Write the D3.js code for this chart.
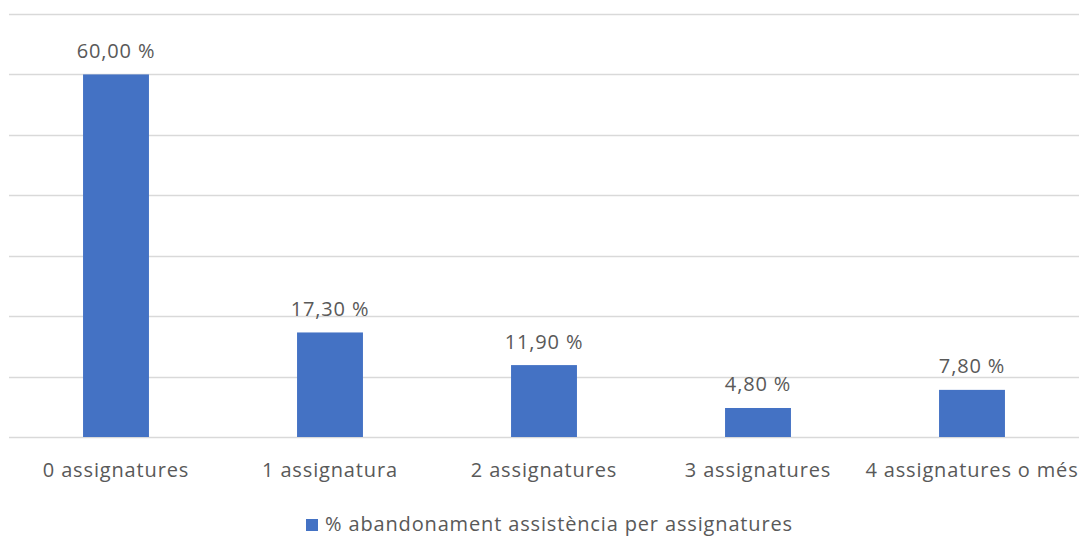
<!DOCTYPE html>
<html>
<head>
<meta charset="utf-8">
<script src="https://cdn.jsdelivr.net/npm/d3@7"></script>
<style>
  html, body { margin: 0; padding: 0; background: #fff; }
  svg { display: block; }
  text { font-family: "Open Sans", "Noto Sans", sans-serif; fill: #595959; letter-spacing: 0.85px; }
</style>
</head>
<body>
<svg id="chart" width="1079" height="536"></svg>
<script>
// Categories and values (percentages)
const categories = ["0 assignatures", "1 assignatura", "2 assignatures", "3 assignatures", "4 assignatures o més"];
const values = [60.0, 17.3, 11.9, 4.8, 7.8];
const gridTicks = [0, 10, 20, 30, 40, 50, 60, 70];
const seriesName = "% abandonament assistència per assignatures";

const svg = d3.select("#chart");
const plot = { left: 9, right: 1079, top: 14, bottom: 437 };

const x = d3.scaleBand()
  .domain(categories)
  .range([plot.left, plot.right])
  .paddingInner(0.692)
  .paddingOuter(0.346);

const y = d3.scaleLinear()
  .domain([0, 70])
  .range([plot.bottom, plot.top]);

const locale = d3.formatLocale({ decimal: ",", thousands: ".", grouping: [3], currency: ["", " €"] });
const fmt = v => locale.format(".2f")(v) + " %";

// Horizontal gridlines
svg.append("g")
  .selectAll("line")
  .data(gridTicks)
  .join("line")
  .attr("x1", plot.left)
  .attr("x2", plot.right)
  .attr("y1", d => Math.round(y(d)) + 0.5)
  .attr("y2", d => Math.round(y(d)) + 0.5)
  .attr("stroke", "#d9d9d9")
  .attr("stroke-width", 1.3);

// Bars
svg.append("g")
  .selectAll("rect")
  .data(values)
  .join("rect")
  .attr("x", (d, i) => x(categories[i]))
  .attr("y", d => y(d))
  .attr("width", x.bandwidth())
  .attr("height", d => y(0) - y(d))
  .attr("fill", "#4472c4");

// Value labels
svg.append("g")
  .selectAll("text")
  .data(values)
  .join("text")
  .attr("x", (d, i) => x(categories[i]) + x.bandwidth() / 2)
  .attr("y", d => y(d) - 16.5)
  .attr("text-anchor", "middle")
  .attr("font-size", 20)
  .text(d => fmt(d));

// Category axis labels
svg.append("g")
  .selectAll("text")
  .data(categories)
  .join("text")
  .attr("x", d => x(d) + x.bandwidth() / 2)
  .attr("y", 476.5)
  .attr("text-anchor", "middle")
  .attr("font-size", 20)
  .text(d => d);

// Legend
const legend = svg.append("g").attr("transform", "translate(306,519)");
legend.append("rect").attr("width", 12).attr("height", 12).attr("fill", "#4472c4");
legend.append("text")
  .attr("x", 19)
  .attr("y", 12)
  .attr("font-size", 20)
  .text(seriesName);
</script>
</body>
</html>
